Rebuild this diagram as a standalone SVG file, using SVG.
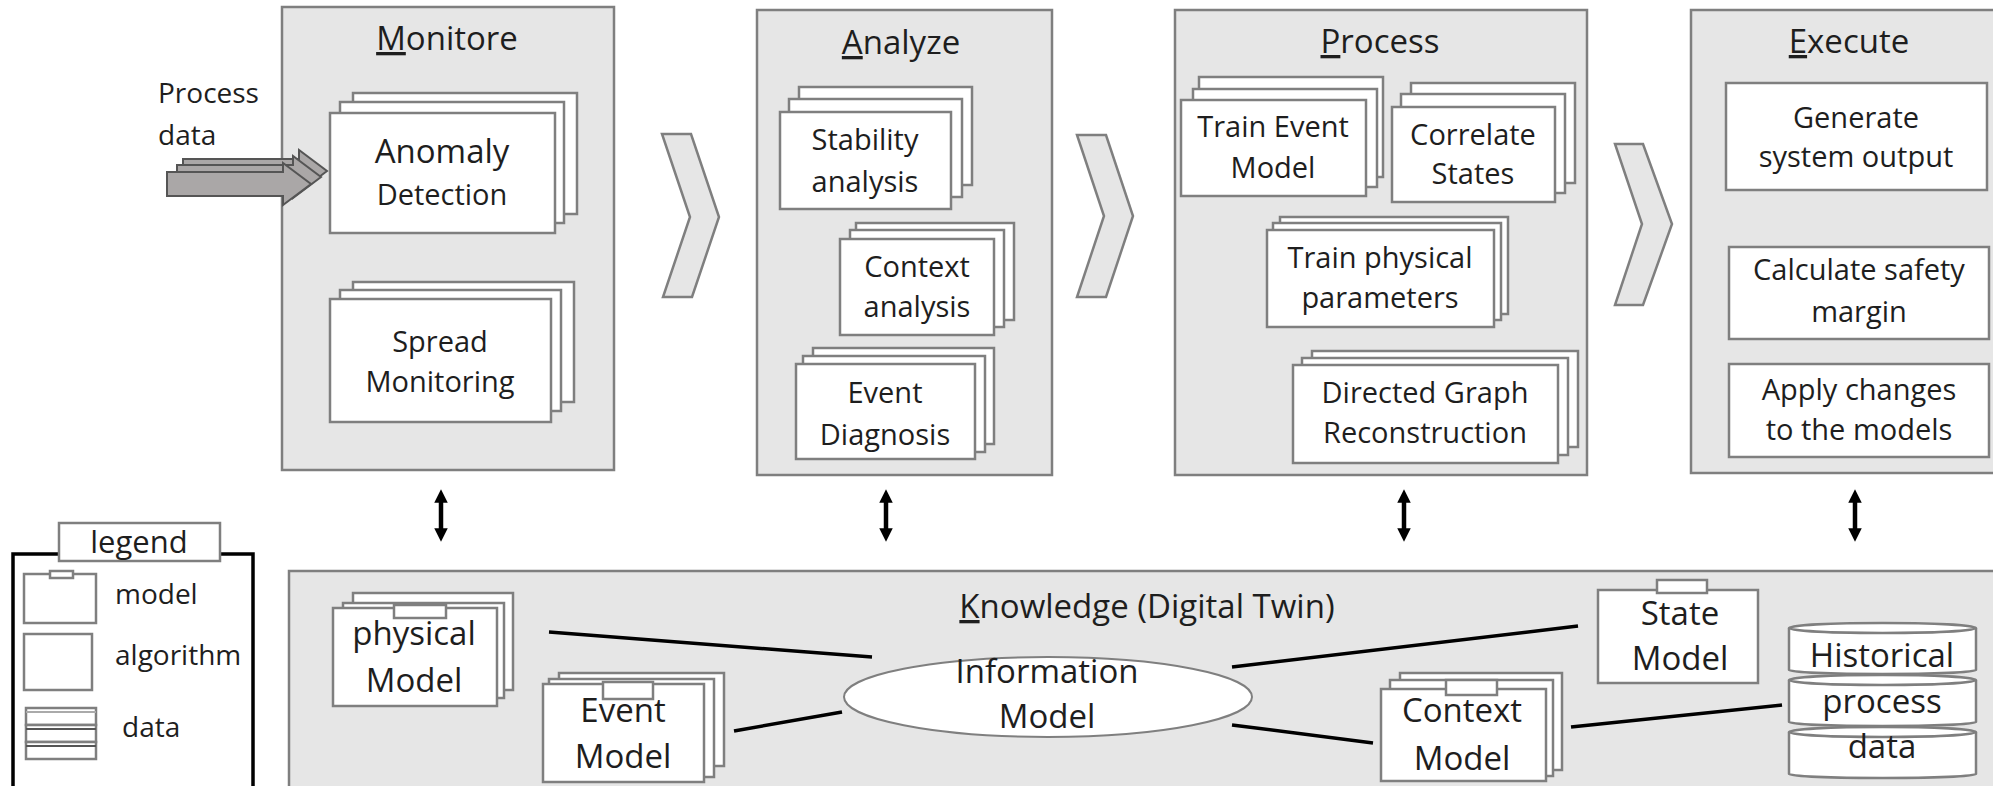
<svg xmlns="http://www.w3.org/2000/svg" width="1993" height="786" viewBox="0 0 1993 786">
<style>
  text { font-family: "Open Sans", "Liberation Sans", sans-serif; fill: #1e1e1e; }
  .panel { fill: #e6e6e6; stroke: #7f7f7f; stroke-width: 2.5; }
  .box { fill: #ffffff; stroke: #7f7f7f; stroke-width: 2.5; }
  .title { font-size: 33px; text-anchor: middle; }
  .lbl { font-size: 29px; text-anchor: middle; }
  .klbl { font-size: 33px; text-anchor: middle; }
  .leg { font-size: 28px; }
  .chev { fill: #e6e6e6; stroke: #7f7f7f; stroke-width: 2.5; }
  .conn { stroke: #000; stroke-width: 3.5; fill: none; }
  .dbl { stroke: #000; stroke-width: 4.5; fill: none; marker-start: url(#ah); marker-end: url(#ah); }
  .parrow { fill: #aaa7a7; stroke: #555; stroke-width: 2; }
  .u { text-decoration: underline; }
</style>
<defs>
  <marker id="ah" viewBox="0 0 10 10" refX="5" refY="5" markerWidth="3.2" markerHeight="3" orient="auto-start-reverse">
    <path d="M0,0 L10,5 L0,10 z" fill="#000"/>
  </marker>
</defs>

<!-- Monitore panel -->
<g id="monitore">
  <rect class="panel" x="282" y="7" width="332" height="463"/>
  <text class="title" x="447" y="50"><tspan class="u">M</tspan>onitore</text>
  <g id="anomaly">
    <rect class="box" x="353" y="93" width="224" height="121"/>
    <rect class="box" x="340" y="102" width="224" height="121"/>
    <rect class="box" x="330" y="113" width="225" height="120"/>
    <text x="442" y="163" text-anchor="middle" font-size="33">Anomaly</text>
    <text x="442" y="205" text-anchor="middle" font-size="29">Detection</text>
  </g>
  <g id="spread">
    <rect class="box" x="353" y="282" width="221" height="120"/>
    <rect class="box" x="340" y="290" width="221" height="121"/>
    <rect class="box" x="330" y="299" width="221" height="123"/>
    <text class="lbl" x="440" y="352">Spread</text>
    <text class="lbl" x="440" y="392">Monitoring</text>
  </g>
</g>

<!-- Process data input -->
<g id="process-data">
  <text x="158" y="103" font-size="28">Process</text>
  <text x="158" y="145" font-size="28">data</text>
  <polygon class="parrow" points="183,159 299,159 299,150 327,171 299,192 299,183 183,183"/>
  <polygon class="parrow" points="177,165 293,165 293,156 321,177 293,198 293,189 177,189"/>
  <polygon class="parrow" points="167,172 283,172 283,163 311,184 283,205 283,196 167,196"/>
</g>

<!-- Analyze panel -->
<g id="analyze">
  <rect class="panel" x="757" y="10" width="295" height="465"/>
  <text class="title" x="901" y="54"><tspan class="u">A</tspan>nalyze</text>
  <g id="stability">
    <rect class="box" x="799" y="87" width="173" height="98"/>
    <rect class="box" x="789" y="99" width="173" height="98"/>
    <rect class="box" x="780" y="112" width="171" height="97"/>
    <text class="lbl" x="865" y="150">Stability</text>
    <text class="lbl" x="865" y="192">analysis</text>
  </g>
  <g id="context-analysis">
    <rect class="box" x="856" y="223" width="158" height="97"/>
    <rect class="box" x="850" y="230" width="154" height="97"/>
    <rect class="box" x="840" y="239" width="154" height="96"/>
    <text class="lbl" x="917" y="277">Context</text>
    <text class="lbl" x="917" y="317">analysis</text>
  </g>
  <g id="event-diagnosis">
    <rect class="box" x="813" y="348" width="181" height="96"/>
    <rect class="box" x="803" y="356" width="182" height="96"/>
    <rect class="box" x="796" y="364" width="179" height="95"/>
    <text class="lbl" x="885" y="403">Event</text>
    <text class="lbl" x="885" y="445">Diagnosis</text>
  </g>
</g>

<!-- Process panel -->
<g id="process">
  <rect class="panel" x="1175" y="10" width="412" height="465"/>
  <text class="title" x="1380" y="53"><tspan class="u">P</tspan>rocess</text>
  <g id="train-event">
    <rect class="box" x="1199" y="77" width="184" height="100"/>
    <rect class="box" x="1193" y="89" width="184" height="98"/>
    <rect class="box" x="1181" y="100" width="185" height="96"/>
    <text class="lbl" x="1273" y="137">Train Event</text>
    <text class="lbl" x="1273" y="178">Model</text>
  </g>
  <g id="correlate">
    <rect class="box" x="1411" y="83" width="164" height="100"/>
    <rect class="box" x="1401" y="94" width="164" height="99"/>
    <rect class="box" x="1392" y="107" width="163" height="95"/>
    <text class="lbl" x="1473" y="145">Correlate</text>
    <text class="lbl" x="1473" y="184">States</text>
  </g>
  <g id="train-physical">
    <rect class="box" x="1280" y="217" width="228" height="97"/>
    <rect class="box" x="1273" y="223" width="228" height="97"/>
    <rect class="box" x="1267" y="230" width="227" height="97"/>
    <text class="lbl" x="1380" y="268">Train physical</text>
    <text class="lbl" x="1380" y="308">parameters</text>
  </g>
  <g id="directed-graph">
    <rect class="box" x="1312" y="351" width="266" height="96"/>
    <rect class="box" x="1302" y="358" width="266" height="97"/>
    <rect class="box" x="1293" y="365" width="265" height="98"/>
    <text class="lbl" x="1425" y="403">Directed Graph</text>
    <text class="lbl" x="1425" y="443">Reconstruction</text>
  </g>
</g>

<!-- Execute panel -->
<g id="execute">
  <rect class="panel" x="1691" y="10" width="320" height="463"/>
  <text class="title" x="1849" y="53"><tspan class="u">E</tspan>xecute</text>
  <g id="generate">
    <rect class="box" x="1726" y="83" width="261" height="107"/>
    <text class="lbl" x="1856" y="128">Generate</text>
    <text class="lbl" x="1856" y="167">system output</text>
  </g>
  <g id="safety">
    <rect class="box" x="1729" y="247" width="260" height="92"/>
    <text class="lbl" x="1859" y="280">Calculate safety</text>
    <text class="lbl" x="1859" y="322">margin</text>
  </g>
  <g id="apply">
    <rect class="box" x="1729" y="364" width="260" height="93"/>
    <text class="lbl" x="1859" y="400">Apply changes</text>
    <text class="lbl" x="1859" y="440">to the models</text>
  </g>
</g>

<!-- Chevrons -->
<g id="chevrons">
  <polygon class="chev" points="662,134 691,134 719,217 692,297 663,297 690,217"/>
  <polygon class="chev" points="1077,135 1106,135 1133,216 1106,297 1077,297 1104,216"/>
  <polygon class="chev" points="1615,144 1643,144 1672,224 1643,305 1615,305 1642,224"/>
</g>

<!-- Knowledge panel -->
<g id="knowledge">
  <rect class="panel" x="289" y="571" width="1720" height="230"/>
  <text class="title" x="1147" y="618"><tspan class="u">K</tspan>nowledge (Digital Twin)</text>
</g>

<!-- Connectors -->
<g id="connectors">
  <line class="dbl" x1="441" y1="496" x2="441" y2="535"/>
  <line class="dbl" x1="886" y1="496" x2="886" y2="535"/>
  <line class="dbl" x1="1404" y1="496" x2="1404" y2="535"/>
  <line class="dbl" x1="1855" y1="496" x2="1855" y2="535"/>
  <line class="conn" x1="549" y1="632" x2="872" y2="657"/>
  <line class="conn" x1="734" y1="731" x2="842" y2="712"/>
  <line class="conn" x1="1232" y1="667" x2="1578" y2="626"/>
  <line class="conn" x1="1232" y1="725" x2="1373" y2="743"/>
  <line class="conn" x1="1571" y1="727" x2="1782" y2="705"/>
</g>

<g id="physical-model">
  <rect class="box" x="353" y="593" width="160" height="97"/>
  <rect class="box" x="343" y="603" width="161" height="95"/>
  <rect class="box" x="333" y="608" width="164" height="98"/>
  <rect class="box" x="394" y="605" width="52" height="13"/>
  <text class="klbl" x="414" y="645">physical</text>
  <text class="klbl" x="414" y="692">Model</text>
</g>

<g id="event-model">
  <rect class="box" x="559" y="673" width="165" height="93"/>
  <rect class="box" x="549" y="679" width="165" height="98"/>
  <rect class="box" x="543" y="684" width="161" height="98"/>
  <rect class="box" x="603" y="682" width="50" height="17"/>
  <text class="klbl" x="623" y="722">Event</text>
  <text class="klbl" x="623" y="768">Model</text>
</g>

<g id="information-model">
  <ellipse cx="1048" cy="697" rx="204" ry="40" fill="#fff" stroke="#7f7f7f" stroke-width="2"/>
  <text class="klbl" x="1047" y="683">Information</text>
  <text class="klbl" x="1047" y="728">Model</text>
</g>

<g id="state-model">
  <rect class="box" x="1598" y="590" width="160" height="93"/>
  <rect class="box" x="1657" y="580" width="50" height="13"/>
  <text class="klbl" x="1680" y="625">State</text>
  <text class="klbl" x="1680" y="670">Model</text>
</g>

<g id="context-model">
  <rect class="box" x="1400" y="673" width="162" height="97"/>
  <rect class="box" x="1390" y="680" width="163" height="96"/>
  <rect class="box" x="1381" y="689" width="165" height="92"/>
  <rect class="box" x="1446" y="680" width="51" height="15"/>
  <text class="klbl" x="1462" y="722">Context</text>
  <text class="klbl" x="1462" y="770">Model</text>
</g>

<g id="historical-data">
  <path class="box" d="M1789,628 A93.5,5 0 0 1 1976,628 L1976,670 A93.5,4 0 0 1 1789,670 Z"/>
  <path class="box" fill="none" d="M1789,628 A93.5,5 0 0 0 1976,628"/>
  <path class="box" d="M1789,680 A93.5,5 0 0 1 1976,680 L1976,722 A93.5,4 0 0 1 1789,722 Z"/>
  <path class="box" fill="none" d="M1789,680 A93.5,5 0 0 0 1976,680"/>
  <path class="box" d="M1789,732 A93.5,5 0 0 1 1976,732 L1976,774 A93.5,4 0 0 1 1789,774 Z"/>
  <path class="box" fill="none" d="M1789,732 A93.5,5 0 0 0 1976,732"/>
  <text class="klbl" x="1882" y="667">Historical</text>
  <text class="klbl" x="1882" y="713">process</text>
  <text class="klbl" x="1882" y="758">data</text>
</g>

<!-- Legend -->
<g id="legend">
  <rect x="13" y="554" width="240" height="250" fill="#fff" stroke="#000" stroke-width="3.5"/>
  <rect x="59" y="523" width="161" height="38" fill="#fff" stroke="#7f7f7f" stroke-width="2.5"/>
  <text x="139" y="553" font-size="31" text-anchor="middle">legend</text>
  <rect class="box" x="24" y="574" width="72" height="49"/>
  <rect class="box" x="50" y="571" width="23" height="7"/>
  <text class="leg" x="115" y="604">model</text>
  <rect class="box" x="24" y="634" width="68" height="56"/>
  <text class="leg" x="115" y="665">algorithm</text>
  <rect class="box" x="26" y="708" width="70" height="17"/>
  <rect class="box" x="26" y="725" width="70" height="17"/>
  <rect class="box" x="26" y="742" width="70" height="17"/>
  <line x1="26" y1="712" x2="96" y2="712" stroke="#aaa" stroke-width="2"/>
  <line x1="26" y1="729" x2="96" y2="729" stroke="#555" stroke-width="2"/>
  <line x1="26" y1="746" x2="96" y2="746" stroke="#555" stroke-width="2"/>
  <text class="leg" x="122" y="737">data</text>
</g>
</svg>
